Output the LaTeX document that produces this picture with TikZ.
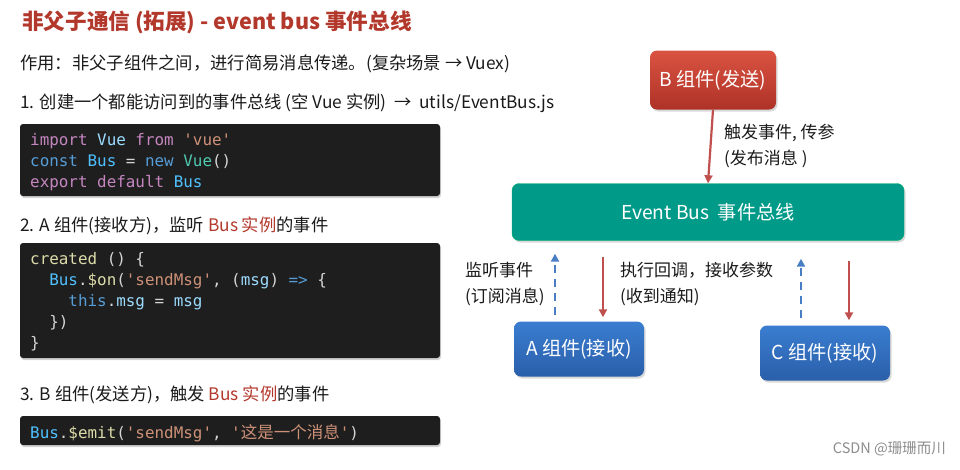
\documentclass[tikz,border=0pt]{standalone}
\usepackage{fontspec}
\setmainfont{Noto Sans CJK SC}
\newfontfamily\codefont{DejaVu Sans Mono}
\newfontfamily\cjkfont{Noto Sans CJK SC}
\usetikzlibrary{positioning,shadows,arrows.meta}
\definecolor{titlered}{HTML}{B3382C}
\definecolor{bodytext}{HTML}{1A1A1A}
\definecolor{codebg}{HTML}{1E1E1E}
\definecolor{vskw}{HTML}{C586C0}
\definecolor{vsblue}{HTML}{569CD6}
\definecolor{vsvar}{HTML}{9CDCFE}
\definecolor{vsconst}{HTML}{4FC1FF}
\definecolor{vsstr}{HTML}{CE9178}
\definecolor{vstype}{HTML}{4EC9B0}
\definecolor{vsfn}{HTML}{DCDCAA}
\definecolor{vsplain}{HTML}{D4D4D4}
\definecolor{sendtop}{HTML}{DA5341}
\definecolor{sendbot}{HTML}{AE3227}
\definecolor{busgreen}{HTML}{009A89}
\definecolor{recvtop}{HTML}{3A7DD0}
\definecolor{recvbot}{HTML}{2A5FAA}
\definecolor{flowred}{HTML}{C0504D}
\definecolor{flowblue}{HTML}{4A7EC4}
\newcommand\kw[1]{\textcolor{vskw}{#1}}
\newcommand\bl[1]{\textcolor{vsblue}{#1}}
\newcommand\vr[1]{\textcolor{vsvar}{#1}}
\newcommand\cn[1]{\textcolor{vsconst}{#1}}
\newcommand\st[1]{\textcolor{vsstr}{#1}}
\newcommand\ty[1]{\textcolor{vstype}{#1}}
\newcommand\fn[1]{\textcolor{vsfn}{#1}}
\newcommand\hl[1]{\textcolor{titlered}{#1}}
\tikzset{
  line/.style={anchor=west,inner sep=0pt,text=bodytext,font=\fontsize{17.3}{21}\selectfont},
  codebox/.style={fill=codebg,rounded corners=3pt,drop shadow={opacity=0.35,shadow xshift=1pt,shadow yshift=-2pt}},
  codetext/.style={anchor=north west,inner sep=0pt,align=left,text=vsplain,
    font=\codefont\fontsize{15.9}{21}\selectfont},
  compbox/.style={rounded corners=7pt,text=white,minimum height=56pt,minimum width=128pt,
    font=\fontsize{19.2}{22}\selectfont,drop shadow={opacity=0.3,shadow xshift=1.5pt,shadow yshift=-2pt}},
  sendbox/.style={compbox,top color=sendtop,bottom color=sendbot},
  recvbox/.style={compbox,top color=recvtop,bottom color=recvbot},
  busbox/.style={compbox,fill=busgreen,draw=busgreen!80!green,minimum width=392pt,minimum height=57pt},
  note/.style={anchor=west,inner sep=0pt,align=left,text=bodytext,
    font=\fontsize{17}{26}\selectfont},
  publish/.style={draw=flowred,line width=2.2pt,-{Triangle[length=8pt,width=8pt]}},
  listen/.style={draw=flowblue,line width=2.8pt,dash pattern=on 8pt off 6pt,
    -{Triangle[length=8pt,width=8pt]}}
}
\begin{document}
\begin{tikzpicture}[x=1pt,y=-1pt]
\useasboundingbox (0,0) rectangle (960,469);
% left column: text and code
\node[line,text=titlered,font=\bfseries\fontsize{21.6}{26}\selectfont] (title) at (22,22)
  {非父子通信 (拓展) - event bus 事件总线};
\node[line] (purpose) at (20,64) {作用：非父子组件之间，进行简易消息传递。(复杂场景 → Vuex)};
\node[line] (step1) at (20,103) {1. 创建一个都能访问到的事件总线 (空 Vue 实例) \ → \ utils/EventBus.js};
\fill[codebox] (20,124) rectangle (440,196);
\node[codetext] (code1) at (30,133) {%
  \kw{import} \vr{Vue} \kw{from} \st{'vue'}\\
  \bl{const} \cn{Bus} = \bl{new} \ty{Vue}()\\
  \kw{export} \kw{default} \cn{Bus}};
\node[line] (step2) at (20,226) {2. A 组件(接收方)，监听 \hl{Bus 实例}的事件};
\fill[codebox] (20,243) rectangle (440,358);
\node[codetext] (code2) at (30,252) {%
  \fn{created} () \{\\
  \phantom{xx}\cn{Bus}.\fn{\$on}(\st{'sendMsg'}, (\vr{msg}) \bl{=>} \{\\
  \phantom{xxxx}\bl{this}.\vr{msg} = \vr{msg}\\
  \phantom{xx}\})\\
  \}};
\node[line] (step3) at (20,395) {3. B 组件(发送方)，触发 \hl{Bus 实例}的事件};
\fill[codebox] (20,416) rectangle (440,445);
\node[codetext] (code3) at (30,424) {%
  \cn{Bus}.\fn{\$emit}(\st{'sendMsg'}, \st{'{\cjkfont\fontsize{16.5}{21}\selectfont 这是一个消息}'})};
% right column: event bus diagram
\node[sendbox,minimum height=59pt,minimum width=126pt] (B) at (713,80) {B 组件(发送)};
\node[busbox] (bus) at (708,212) {Event Bus\ \ 事件总线};
\node[recvbox,minimum height=55pt,minimum width=130pt] (A) at (579,349) {A 组件(接收)};
\node[recvbox,minimum height=55pt,minimum width=130pt] (C) at (825,353) {C 组件(接收)};
\draw[publish] (B.south) -- (bus.north);
\node[note] (emitnote) at (724,146) {触发事件, 传参\\(发布消息 )};
\draw[listen,shorten <=6pt,shorten >=13pt] ([xshift=-24]A.north) -- ([xshift=-24]A.north |- bus.south);
\draw[publish,shorten <=16pt,shorten >=4pt] ([xshift=24]A.north |- bus.south) -- ([xshift=24]A.north);
\draw[listen,shorten <=7pt,shorten >=18pt] ([xshift=-24]C.north) -- ([xshift=-24]C.north |- bus.south);
\draw[publish,shorten <=20pt,shorten >=5pt] ([xshift=24]C.north |- bus.south) -- ([xshift=24]C.north);
\node[note] (listennote) at (465,284) {监听事件\\(订阅消息)};
\node[note] (callnote) at (620,284) {执行回调，接收参数\\(收到通知)};
\node[anchor=east,inner sep=0pt,text=black!45,font=\fontsize{14.5}{16}\selectfont] (mark) at (946,449)
  {CSDN @珊珊而川};
\end{tikzpicture}
\end{document}
